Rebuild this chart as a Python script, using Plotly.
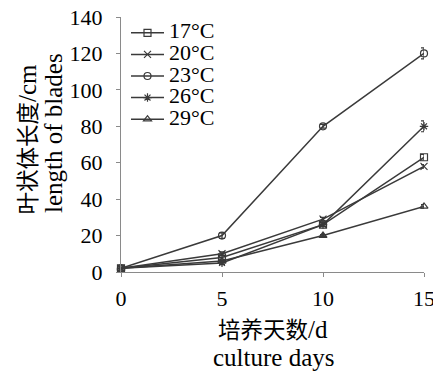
import plotly.graph_objects as go

days = [0, 5, 10, 15]
series_names = ["17°C", "20°C", "23°C", "26°C", "29°C"]
t17 = [2, 8, 26, 63]
t20 = [2, 10, 29, 58]
t23 = [2, 20, 80, 120]
t26 = [2, 5, 26, 80]
t29 = [2, 6, 20, 36]
e17 = [0, 1, 1, 1.5]
e20 = [0, 1, 1, 1]
e23 = [0, 1.5, 1, 3]
e26 = [0, 1, 1, 3]
e29 = [0, 0.5, 0.5, 1]
symbols = ["square-open", "x-thin-open", "circle-open", "asterisk-open", "triangle-up-open"]
x_title = ["培养天数", "/d", "culture days"]
y_title = ["叶状体长度", "/cm", "length of blades"]

values = [t17, t20, t23, t26, t29]
errors = [e17, e20, e23, e26, e29]

FONT = "Liberation Serif"
LC = "#3a3a3a"
AX = "#8a8a8a"
W, H = 433, 376
L, R, T, B = 121, 9, 17, 104
PW, PH = W - L - R, H - T - B

def px(x):
    return (x - L) / PW

def py(y):
    return (H - B - y) / PH

fig = go.Figure()
for name, v, e, s in zip(series_names, values, errors, symbols):
    fig.add_trace(go.Scatter(
        x=days, y=v, name=f'<span style="font-size:22px">{name}</span>',
        mode="lines+markers",
        line=dict(color=LC, width=1.5),
        marker=dict(symbol=s, size=7, color=LC, line=dict(width=1.2, color=LC)),
        error_y=dict(type="data", array=e, visible=True, color=LC, thickness=1.2, width=3),
        cliponaxis=False,
    ))

cjk = 'font-size:22.5px;font-family:Noto Sans CJK SC'
fig.add_annotation(text=f'<span style="{cjk}">{y_title[0]}</span>{y_title[1]}',
                   xref="paper", yref="paper", x=px(25), y=py(217), textangle=-90,
                   xanchor="center", yanchor="bottom", showarrow=False,
                   font=dict(family=FONT, size=25, color="black"))
fig.add_annotation(text=y_title[2],
                   xref="paper", yref="paper", x=px(53), y=py(215), textangle=-90,
                   xanchor="center", yanchor="bottom", showarrow=False,
                   font=dict(family=FONT, size=25, color="black"))
fig.add_annotation(text=f'<span style="{cjk}">{x_title[0]}</span>{x_title[1]}',
                   xref="paper", yref="paper", x=px(273), y=py(328),
                   xanchor="center", yanchor="middle", showarrow=False,
                   font=dict(family=FONT, size=25, color="black"))
fig.add_annotation(text=x_title[2],
                   xref="paper", yref="paper", x=px(273), y=py(357),
                   xanchor="center", yanchor="middle", showarrow=False,
                   font=dict(family=FONT, size=25, color="black"))

fig.update_layout(
    width=W, height=H,
    margin=dict(l=L, r=R, t=T, b=B, autoexpand=False),
    plot_bgcolor="white", paper_bgcolor="white",
    font=dict(family=FONT, size=22, color="black"),
    showlegend=True,
    legend=dict(x=0.0165, y=1.0, xanchor="left", yanchor="top",
                font=dict(family=FONT, size=14.3, color="black"),
                bgcolor="rgba(0,0,0,0)", tracegroupgap=0, itemwidth=33),
    xaxis=dict(range=[0, 15], tickvals=[0, 5, 10, 15], showline=True, linecolor=AX,
               linewidth=1.2, ticks="outside", ticklen=4, tickcolor=AX,
               showgrid=False, zeroline=False, ticklabeloverflow="allow",
               tickfont=dict(family=FONT, size=22), ticklabelstandoff=2),
    yaxis=dict(range=[0, 140], tickvals=[0, 20, 40, 60, 80, 100, 120, 140], showline=True,
               linecolor=AX, linewidth=1.2, ticks="outside", ticklen=4,
               tickcolor=AX, showgrid=False, zeroline=False, ticklabeloverflow="allow",
               tickfont=dict(family=FONT, size=22), ticklabelstandoff=9),
)
fig.write_html("out.html", config={"displayModeBar": False},
               post_script="document.body.style.margin='0';")
